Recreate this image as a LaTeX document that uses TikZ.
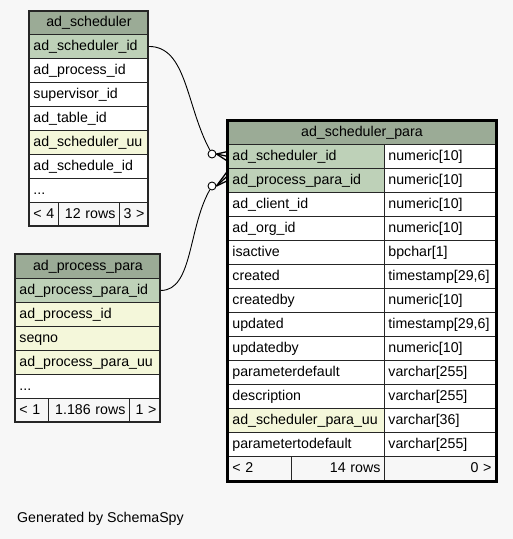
\documentclass[tikz,border=0pt]{standalone}
\usepackage{fontspec}
\setmainfont{Liberation Sans}
\usetikzlibrary{calc}
\definecolor{hdrgreen}{HTML}{9BAB96}
\definecolor{pkgreen}{HTML}{BED1B8}
\definecolor{idxyellow}{HTML}{F4F7DA}
\definecolor{bggray}{HTML}{F7F7F7}
\tikzset{
	cell/.style={rectangle,draw=black!85,line width=0.9pt,anchor=north west,minimum height=24pt,inner xsep=4pt,inner ysep=0pt,text height=10.5pt,text depth=3pt,align=left,font=\fontsize{14.2}{16}\selectfont},
	hdr/.style={cell,fill=hdrgreen,align=center},
	pk/.style={cell,fill=pkgreen},
	idx/.style={cell,fill=idxyellow},
	plain/.style={cell,fill=white},
	foot/.style={cell,fill=bggray},
	ring/.style={circle,draw=black,line width=0.9pt,fill=white,inner sep=0pt,minimum size=8pt},
	crow/.style={line width=1.3pt},
	link/.style={line width=0.9pt}}
\begin{document}
\begin{tikzpicture}[x=1pt,y=-1pt]
	\fill[bggray] (0,0) rectangle (513,539);
	\useasboundingbox (0,0) rectangle (513,539);
	% ad_scheduler
	\node (S) at (29,11) [hdr,text width=111pt,minimum height=23pt] {ad\_scheduler};
	\node (S1) at (29,34) [pk,text width=111pt] {ad\_scheduler\_id};
	\node (S2) at (29,58) [plain,text width=111pt] {ad\_process\_id};
	\node (S3) at (29,82) [plain,text width=111pt] {supervisor\_id};
	\node (S4) at (29,106) [plain,text width=111pt] {ad\_table\_id};
	\node (S5) at (29,130) [idx,text width=111pt] {ad\_scheduler\_uu};
	\node (S6) at (29,154) [plain,text width=111pt] {ad\_schedule\_id};
	\node (S7) at (29,178) [plain,text width=111pt] {...};
	\node (Sf1) at (29,202) [foot,text width=21pt] {< 4};
	\node (Sf2) at (58,202) [foot,text width=53pt,align=right] {12 rows};
	\node (Sf3) at (119,202) [foot,text width=21pt,align=right] {3 >};
	\draw[line width=1.3pt,black!85] (29,11) rectangle (148,226);
	% ad_process_para
	\node (R) at (15,254) [hdr,text width=137pt] {ad\_process\_para};
	\node (R1) at (15,278) [pk,text width=137pt] {ad\_process\_para\_id};
	\node (R2) at (15,302) [idx,text width=137pt] {ad\_process\_id};
	\node (R3) at (15,326) [idx,text width=137pt] {seqno};
	\node (R4) at (15,350) [idx,text width=137pt] {ad\_process\_para\_uu};
	\node (R5) at (15,374) [plain,text width=137pt] {...};
	\node (Rf1) at (15,398) [foot,text width=25pt] {< 1};
	\node (Rf2) at (48,398) [foot,text width=73pt,align=right] {1.186 rows};
	\node (Rf3) at (129,398) [foot,text width=23pt,align=right] {1 >};
	\draw[line width=1.3pt,black!85] (15,254) rectangle (160,422);
	% ad_scheduler_para
	\node (P) at (228,120) [hdr,text width=259pt] {ad\_scheduler\_para};
	\node (P1) at (228,144) [pk,text width=148pt] {ad\_scheduler\_id};
	\node (Q1) at (384,144) [plain,text width=103pt] {numeric[10]};
	\node (P2) at (228,168) [pk,text width=148pt] {ad\_process\_para\_id};
	\node (Q2) at (384,168) [plain,text width=103pt] {numeric[10]};
	\node (P3) at (228,192) [plain,text width=148pt] {ad\_client\_id};
	\node (Q3) at (384,192) [plain,text width=103pt] {numeric[10]};
	\node (P4) at (228,216) [plain,text width=148pt] {ad\_org\_id};
	\node (Q4) at (384,216) [plain,text width=103pt] {numeric[10]};
	\node (P5) at (228,240) [plain,text width=148pt] {isactive};
	\node (Q5) at (384,240) [plain,text width=103pt] {bpchar[1]};
	\node (P6) at (228,264) [plain,text width=148pt] {created};
	\node (Q6) at (384,264) [plain,text width=103pt] {timestamp[29,6]};
	\node (P7) at (228,288) [plain,text width=148pt] {createdby};
	\node (Q7) at (384,288) [plain,text width=103pt] {numeric[10]};
	\node (P8) at (228,312) [plain,text width=148pt] {updated};
	\node (Q8) at (384,312) [plain,text width=103pt] {timestamp[29,6]};
	\node (P9) at (228,336) [plain,text width=148pt] {updatedby};
	\node (Q9) at (384,336) [plain,text width=103pt] {numeric[10]};
	\node (P10) at (228,360) [plain,text width=148pt] {parameterdefault};
	\node (Q10) at (384,360) [plain,text width=103pt] {varchar[255]};
	\node (P11) at (228,384) [plain,text width=148pt] {description};
	\node (Q11) at (384,384) [plain,text width=103pt] {varchar[255]};
	\node (P12) at (228,408) [idx,text width=148pt] {ad\_scheduler\_para\_uu};
	\node (Q12) at (384,408) [plain,text width=103pt] {varchar[36]};
	\node (P13) at (228,432) [plain,text width=148pt] {parametertodefault};
	\node (Q13) at (384,432) [plain,text width=103pt] {varchar[255]};
	\node (Pf1) at (228,456) [foot,text width=55pt] {< 2};
	\node (Pf2) at (291,456) [foot,text width=85pt,align=right] {14 rows};
	\node (Pf3) at (384,456) [foot,text width=103pt,align=right] {0 >};
	% links
	\node (o1) at (212,154) [ring] {};
	\node (o2) at (212,186) [ring] {};
	\draw[link] (S1.east) .. controls +(38,0) and +(-26,-48) .. (o1);
	\draw[link] (R1.east) .. controls +(32,0) and +(-24,42) .. (o2);
	\draw[crow] (o1.east) -- ($(P1.west)+(0,-5)$);
	\draw[crow] (o1.east) -- (P1.west);
	\draw[crow] (o1.east) -- ($(P1.west)+(0,5)$);
	\draw[crow] (o2.east) -- ($(P2.west)+(0,-5)$);
	\draw[crow] (o2.east) -- ($(P2.west)+(0,-10)$);
	\draw[crow] (o2.east) -- ($(P2.west)+(0,0)$);
	\draw[line width=3pt] (227,120) rectangle (496,481);
	\node (gen) at (17,519) [anchor=west,inner sep=0pt,font=\fontsize{14.2}{16}\selectfont] {Generated by SchemaSpy};
\end{tikzpicture}
\end{document}
